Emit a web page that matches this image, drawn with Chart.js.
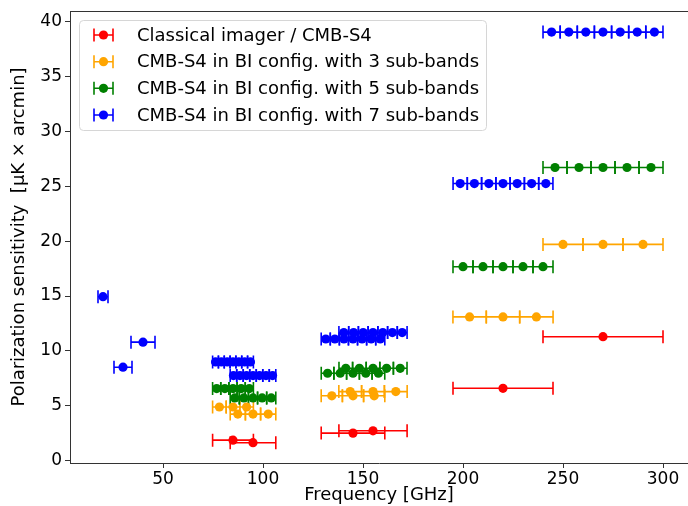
<!DOCTYPE html>
<html>
<head>
<meta charset="utf-8">
<script src="https://cdn.jsdelivr.net/npm/chart.js@4/dist/chart.umd.min.js"></script>
<style>
html, body { margin: 0; padding: 0; overflow: hidden; background: #fff; }
#wrap { width: 688px; height: 506px; }
</style>
</head>
<body>
<div id="wrap"><canvas id="c" width="688" height="506"></canvas></div>
<script>
// ---- data ----
const seriesNames = [
  'Classical imager / CMB-S4',
  'CMB-S4 in BI config. with 3 sub-bands',
  'CMB-S4 in BI config. with 5 sub-bands',
  'CMB-S4 in BI config. with 7 sub-bands'
];
const seriesColors = ['#ff0000', '#ffa500', '#008000', '#0000ff'];

const classicalFreq = [85, 95, 145, 155, 220, 270];
const classicalHalfWidth = [10.2, 11.4, 15.9, 17.05, 25, 30];
const classicalSens = [1.88, 1.65, 2.52, 2.73, 6.6, 11.3];

const sub3Freq = [78.2, 85, 91.8, 87.4, 95, 102.6, 134.4, 145, 155.6, 143.6, 155, 166.4, 203.3, 220, 236.7, 250, 270, 290];
const sub3HalfWidth = [3.4, 3.4, 3.4, 3.8, 3.8, 3.8, 5.3, 5.3, 5.3, 5.68, 5.68, 5.68, 8.33, 8.33, 8.33, 10, 10, 10];
const sub3Sens = [4.9, 4.9, 4.9, 4.25, 4.25, 4.25, 5.92, 5.92, 5.92, 6.3, 6.3, 6.3, 13.1, 13.1, 13.1, 19.7, 19.7, 19.7];

const sub5Freq = [76.84, 80.92, 85, 89.08, 93.16, 85.88, 90.44, 95, 99.56, 104.12,
  132.3, 138.6, 145, 151.4, 157.7, 141.4, 148.2, 155, 161.8, 168.6,
  200, 210, 220, 230, 240, 246, 258, 270, 282, 294];
const sub5HalfWidth = [2.04, 2.04, 2.04, 2.04, 2.04, 2.28, 2.28, 2.28, 2.28, 2.28,
  3.18, 3.18, 3.18, 3.18, 3.18, 3.41, 3.41, 3.41, 3.41, 3.41,
  5, 5, 5, 5, 5, 6, 6, 6, 6, 6];
const sub5Sens = [6.58, 6.58, 6.58, 6.58, 6.58, 5.72, 5.72, 5.72, 5.72, 5.72,
  7.97, 7.97, 7.97, 7.97, 7.97, 8.42, 8.42, 8.42, 8.42, 8.42,
  17.67, 17.67, 17.67, 17.67, 17.67, 26.7, 26.7, 26.7, 26.7, 26.7];

const sub7Freq = [20, 30, 40,
  76.26, 79.17, 82.09, 85, 87.91, 90.83, 93.74,
  85.23, 88.49, 91.74, 95, 98.26, 101.51, 104.77,
  131.37, 135.91, 140.46, 145, 149.54, 154.09, 158.63,
  140.4, 145.3, 150.1, 155, 159.9, 164.7, 169.6,
  198.6, 205.7, 212.9, 220, 227.1, 234.3, 241.4,
  244.3, 252.9, 261.4, 270, 278.6, 287.1, 295.7];
const sub7HalfWidth = [2.5, 4.5, 6,
  1.457, 1.457, 1.457, 1.457, 1.457, 1.457, 1.457,
  1.629, 1.629, 1.629, 1.629, 1.629, 1.629, 1.629,
  2.27, 2.27, 2.27, 2.27, 2.27, 2.27, 2.27,
  2.44, 2.44, 2.44, 2.44, 2.44, 2.44, 2.44,
  3.57, 3.57, 3.57, 3.57, 3.57, 3.57, 3.57,
  4.29, 4.29, 4.29, 4.29, 4.29, 4.29, 4.29];
const sub7Sens = [14.94, 8.52, 10.8,
  9.0, 9.0, 9.0, 9.0, 9.0, 9.0, 9.0,
  7.76, 7.76, 7.76, 7.76, 7.76, 7.76, 7.76,
  11.09, 11.09, 11.09, 11.09, 11.09, 11.09, 11.09,
  11.67, 11.67, 11.67, 11.67, 11.67, 11.67, 11.67,
  25.24, 25.24, 25.24, 25.24, 25.24, 25.24, 25.24,
  39.03, 39.03, 39.03, 39.03, 39.03, 39.03, 39.03];

const xTickValues = [50, 100, 150, 200, 250, 300];
const yTickValues = [0, 5, 10, 15, 20, 25, 30, 35, 40];

// ---- build datasets ----
function makePoints(f, h, s) {
  return f.map((v, i) => ({ x: v, y: s[i], xerr: h[i] }));
}
const allSeries = [
  makePoints(classicalFreq, classicalHalfWidth, classicalSens),
  makePoints(sub3Freq, sub3HalfWidth, sub3Sens),
  makePoints(sub5Freq, sub5HalfWidth, sub5Sens),
  makePoints(sub7Freq, sub7HalfWidth, sub7Sens)
];
const datasets = allSeries.map((pts, i) => ({
  label: seriesNames[i],
  data: pts,
  showLine: false,
  pointRadius: 4.6,
  pointHoverRadius: 4.6,
  pointBorderWidth: 0,
  pointBackgroundColor: seriesColors[i],
  borderColor: seriesColors[i],
  backgroundColor: seriesColors[i],
  order: 4 - i
}));

const FONT = "'DejaVu Sans', sans-serif";
const CAP = 6.5;

const errorBarPlugin = {
  id: 'errorbars',
  beforeDatasetsDraw(chart) {
    const ctx = chart.ctx;
    const xs = chart.scales.x, ys = chart.scales.y;
    ctx.save();
    ctx.beginPath();
    ctx.rect(chart.chartArea.left, chart.chartArea.top, chart.chartArea.right - chart.chartArea.left, chart.chartArea.bottom - chart.chartArea.top);
    ctx.clip();
    chart.data.datasets.forEach((ds, di) => {
      ctx.strokeStyle = seriesColors[di];
      ctx.lineWidth = 1.6;
      ds.data.forEach(p => {
        const y = ys.getPixelForValue(p.y);
        const x0 = xs.getPixelForValue(p.x - p.xerr);
        const x1 = xs.getPixelForValue(p.x + p.xerr);
        ctx.beginPath();
        ctx.moveTo(x0, y); ctx.lineTo(x1, y);
        ctx.moveTo(x0, y - CAP); ctx.lineTo(x0, y + CAP);
        ctx.moveTo(x1, y - CAP); ctx.lineTo(x1, y + CAP);
        ctx.stroke();
      });
    });
    ctx.restore();
  },
  afterDraw(chart) {
    const ctx = chart.ctx;
    const a = chart.chartArea;
    ctx.save();
    // top spine (right spine lies just outside the picture)
    ctx.strokeStyle = '#333';
    ctx.lineWidth = 1;
    ctx.beginPath();
    ctx.moveTo(a.left, a.top + 0.5); ctx.lineTo(a.right, a.top + 0.5);
    ctx.stroke();
    // legend
    const bx = 79.5, by = 20.5, bw = 407, bh = 110, r = 4;
    ctx.beginPath();
    ctx.moveTo(bx + r, by);
    ctx.arcTo(bx + bw, by, bx + bw, by + bh, r);
    ctx.arcTo(bx + bw, by + bh, bx, by + bh, r);
    ctx.arcTo(bx, by + bh, bx, by, r);
    ctx.arcTo(bx, by, bx + bw, by, r);
    ctx.closePath();
    ctx.fillStyle = 'rgba(255,255,255,0.8)';
    ctx.fill();
    ctx.strokeStyle = '#d6d6d6';
    ctx.stroke();
    const rowsY = [35, 61.7, 88.3, 115];
    seriesNames.forEach((name, i) => {
      const y = rowsY[i];
      ctx.strokeStyle = seriesColors[i];
      ctx.lineWidth = 1.6;
      ctx.beginPath();
      ctx.moveTo(94, y); ctx.lineTo(113, y);
      ctx.moveTo(94, y - CAP); ctx.lineTo(94, y + CAP);
      ctx.moveTo(113, y - CAP); ctx.lineTo(113, y + CAP);
      ctx.stroke();
      ctx.fillStyle = seriesColors[i];
      ctx.beginPath();
      ctx.arc(103.5, y, 4.6, 0, Math.PI * 2);
      ctx.fill();
      ctx.fillStyle = '#000';
      ctx.font = '18px ' + FONT;
      ctx.textBaseline = 'middle';
      ctx.textAlign = 'left';
      ctx.fillText(name, 137, y + 1);
    });
    ctx.restore();
  }
};

new Chart(document.getElementById('c'), {
  type: 'scatter',
  data: { datasets },
  options: {
    responsive: false,
    animation: false,
    events: [],
    layout: { autoPadding: false, padding: { top: 11, right: 0, bottom: 0, left: 0 } },
    plugins: { legend: { display: false }, tooltip: { enabled: false } },
    scales: {
      x: {
        type: 'linear',
        min: 3.5,
        max: 312.5,
        afterBuildTicks(s) { s.ticks = xTickValues.map(v => ({ value: v })); },
        afterFit(s) { s.height = 43; s.paddingLeft = 0; s.paddingRight = 0; },
        grid: { display: true, drawOnChartArea: false, drawTicks: true, tickLength: 5, tickColor: '#333', tickWidth: 1 },
        border: { display: true, color: '#333', width: 1 },
        ticks: { color: '#000', font: { family: FONT, size: 17 }, padding: 1, maxRotation: 0 },
        title: { display: true, text: 'Frequency [GHz]', color: '#000', font: { family: FONT, size: 18 }, padding: { top: 0, bottom: 0 } }
      },
      y: {
        type: 'linear',
        min: -0.2,
        max: 40.95,
        afterBuildTicks(s) { s.ticks = yTickValues.map(v => ({ value: v })); },
        afterFit(s) { s.width = 70; s.paddingTop = 0; s.paddingBottom = 0; },
        grid: { display: true, drawOnChartArea: false, drawTicks: true, tickLength: 5, tickColor: '#333', tickWidth: 1 },
        border: { display: true, color: '#333', width: 1 },
        ticks: { color: '#000', font: { family: FONT, size: 17 }, padding: 3 },
        title: { display: true, text: 'Polarization sensitivity  [μK × arcmin]', color: '#000', font: { family: FONT, size: 18 }, padding: { top: 9, bottom: 0 } }
      }
    }
  },
  plugins: [errorBarPlugin]
});
</script>
</body>
</html>
